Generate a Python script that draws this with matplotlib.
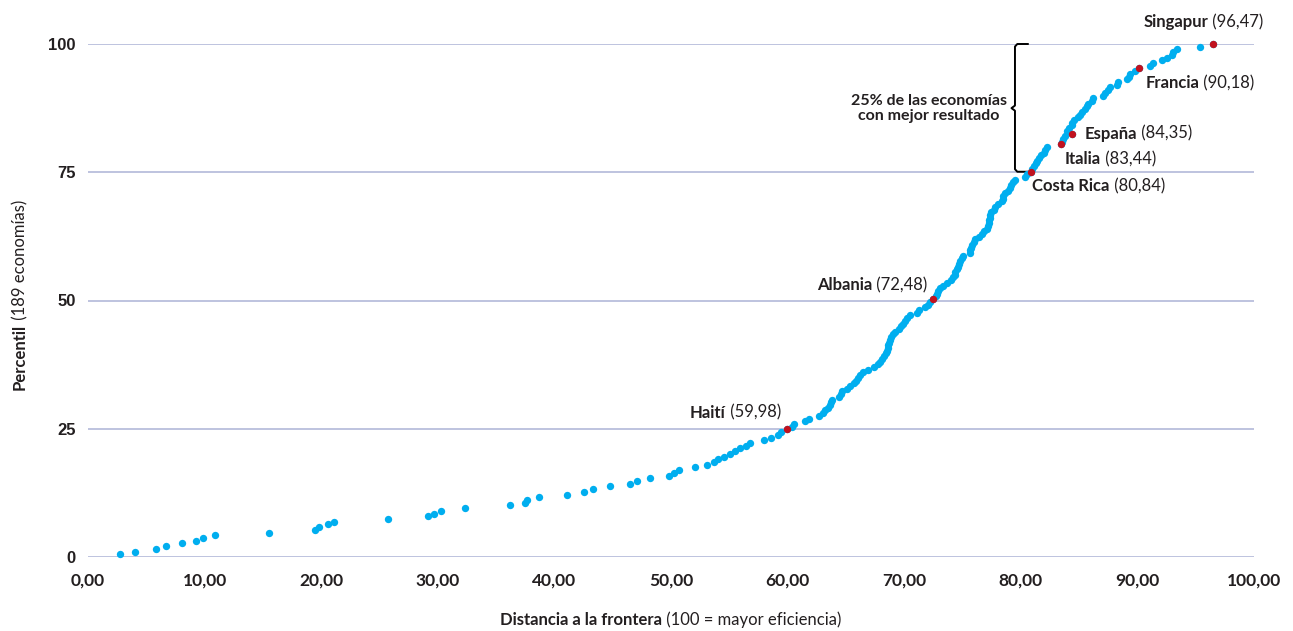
import matplotlib
matplotlib.use("Agg")
import matplotlib.pyplot as plt
from matplotlib.transforms import offset_copy

# --- Colours ---
AZUL = "#00aeef"
ROJO = "#c1121f"
REJILLA = "#b9bedc"
TEXTO = "#231f20"
FUENTE = "Lato"

# --- Data: 189 economies ordered by rank ---
distancia = [
    2.77, 4.01, 5.86, 6.70, 8.04, 9.30, 9.87, 10.88, 15.54, 19.46,
    19.83, 20.60, 21.14, 25.69, 29.12, 29.67, 30.27, 32.30, 36.22, 37.45,
    37.66, 38.69, 41.09, 42.52, 43.29, 44.78, 46.50, 47.12, 48.21, 49.81,
    50.24, 50.67, 52.10, 53.05, 53.71, 53.99, 54.57, 55.05, 55.48, 55.94,
    56.42, 56.76, 57.97, 58.57, 59.20, 59.42, 59.98, 60.34, 60.52, 61.46,
    61.80, 62.66, 63.00, 63.18, 63.43, 63.61, 63.69, 63.78, 64.38, 64.55,
    64.64, 65.06, 65.32, 65.67, 65.84, 66.01, 66.18, 66.44, 66.87, 67.38,
    67.73, 67.90, 68.07, 68.24, 68.41, 68.50, 68.58, 68.63, 68.71, 68.80,
    68.88, 69.01, 69.18, 69.53, 69.70, 69.87, 70.04, 70.21, 70.47, 71.07,
    71.24, 71.76, 72.02, 72.19, 72.48, 72.70, 72.83, 72.92, 73.09, 73.30,
    73.65, 73.99, 74.22, 74.33, 74.38, 74.51, 74.64, 74.72, 74.81, 74.94,
    75.06, 75.62, 75.65, 75.75, 75.85, 75.95, 76.10, 76.39, 76.65, 76.87,
    77.08, 77.21, 77.23, 77.28, 77.32, 77.38, 77.47, 77.66, 77.77, 78.03,
    78.37, 78.45, 78.51, 78.65, 78.88, 79.06, 79.18, 79.31, 79.51, 80.34,
    80.52, 80.84, 80.99, 81.12, 81.29, 81.42, 81.59, 81.76, 81.95, 82.10,
    82.27, 83.44, 83.52, 83.65, 83.78, 84.35, 83.99, 84.13, 84.37, 84.43,
    84.56, 84.91, 85.08, 85.22, 85.51, 85.65, 85.79, 86.08, 86.17, 87.08,
    87.22, 87.50, 87.65, 88.22, 88.30, 89.08, 89.30, 89.37, 89.79, 90.18,
    91.08, 91.36, 92.08, 92.58, 92.94, 93.08, 93.37, 95.37, 96.47,
]

percentil = [
    0.53, 1.06, 1.59, 2.12, 2.65, 3.17, 3.70, 4.23, 4.76, 5.29,
    5.82, 6.35, 6.88, 7.41, 7.94, 8.47, 8.99, 9.52, 10.05, 10.58,
    11.11, 11.64, 12.17, 12.70, 13.23, 13.76, 14.29, 14.81, 15.34, 15.87,
    16.40, 16.93, 17.46, 17.99, 18.52, 19.05, 19.58, 20.11, 20.63, 21.16,
    21.69, 22.22, 22.75, 23.28, 23.81, 24.34, 24.87, 25.40, 25.93, 26.46,
    26.98, 27.51, 28.04, 28.57, 29.10, 29.63, 30.16, 30.69, 31.22, 31.75,
    32.28, 32.80, 33.33, 33.86, 34.39, 34.92, 35.45, 35.98, 36.51, 37.04,
    37.57, 38.10, 38.62, 39.15, 39.68, 40.21, 40.74, 41.27, 41.80, 42.33,
    42.86, 43.39, 43.92, 44.44, 44.97, 45.50, 46.03, 46.56, 47.09, 47.62,
    48.15, 48.68, 49.21, 49.74, 50.26, 50.79, 51.32, 51.85, 52.38, 52.91,
    53.44, 53.97, 54.50, 55.03, 55.56, 56.08, 56.61, 57.14, 57.67, 58.20,
    58.73, 59.26, 59.79, 60.32, 60.85, 61.38, 61.90, 62.43, 62.96, 63.49,
    64.02, 64.55, 65.08, 65.61, 66.14, 66.67, 67.20, 67.72, 68.25, 68.78,
    69.31, 69.84, 70.37, 70.90, 71.43, 71.96, 72.49, 73.02, 73.54, 74.07,
    74.60, 75.13, 75.66, 76.19, 76.72, 77.25, 77.78, 78.31, 78.84, 79.37,
    79.89, 80.42, 80.95, 81.48, 82.01, 82.54, 83.07, 83.60, 84.13, 84.66,
    85.19, 85.71, 86.24, 86.77, 87.30, 87.83, 88.36, 88.89, 89.42, 89.95,
    90.48, 91.01, 91.53, 92.06, 92.59, 93.12, 93.65, 94.18, 94.71, 95.24,
    95.77, 96.30, 96.83, 97.35, 97.88, 98.41, 98.94, 99.47, 100.00,
]

destacados = ["Haití", "Albania", "Costa Rica", "Italia", "España", "Francia", "Singapur"]
destacados_x = [59.98, 72.48, 80.84, 83.44, 84.35, 90.18, 96.47]
etiquetas_valor = ["(59,98)", "(72,48)", "(80,84)", "(83,44)", "(84,35)", "(90,18)", "(96,47)"]

# label anchor (data coords) and alignment for each highlighted economy
posiciones = [(59.45, 28.1, "right"), (72.0, 53.0, "right"), (81.0, 72.3, "left"),
              (83.8, 77.6, "left"), (85.5, 82.5, "left"), (90.7, 92.4, "left"),
              (90.5, 104.3, "left")]

xticks = list(range(0, 101, 10))
yticks = [0, 25, 50, 75, 100]

fig = plt.figure(figsize=(12.93, 6.31), dpi=100)
ax = fig.add_axes([88 / 1293, 1 - 557 / 631, (1254 - 88) / 1293, (557 - 44) / 631])
renderer = fig.canvas.get_renderer()


def dos_partes(x, y, negrita, normal, ha="left", size=12):
    """Bold name followed by regular text, anchored at (x, y) in data coords."""
    kw = dict(fontsize=size, color=TEXTO, family=FUENTE, va="center", clip_on=False)
    if ha == "left":
        t1 = ax.text(x, y, negrita, fontweight="bold", ha="left", **kw)
        w = t1.get_window_extent(renderer).width
        tr = offset_copy(ax.transData, fig=fig, x=w, y=0, units="dots")
        ax.text(x, y, " " + normal, ha="left", transform=tr, **kw)
    else:
        t2 = ax.text(x, y, " " + normal, ha="right", **kw)
        w = t2.get_window_extent(renderer).width
        tr = offset_copy(ax.transData, fig=fig, x=-w, y=0, units="dots")
        ax.text(x, y, negrita, fontweight="bold", ha="right", transform=tr, **kw)


# --- Points ---
ax.scatter(distancia, percentil, s=28, color=AZUL, linewidths=0, zorder=3, clip_on=False)
rojo_y = [percentil[distancia.index(v)] for v in destacados_x]
ax.scatter(destacados_x, rojo_y, s=28, color=ROJO, linewidths=0, zorder=4, clip_on=False)

for nombre, valor, (lx, ly, ha) in zip(destacados, etiquetas_valor, posiciones):
    dos_partes(lx, ly, nombre, valor, ha=ha)

# --- Bracket for top 25% ---
bx = [80.6, 79.7, 79.5, 79.5, 79.2, 79.5, 79.5, 79.7, 80.7]
by = [100.0, 100.0, 99.5, 88.0, 87.5, 87.0, 75.6, 75.1, 75.1]
ax.plot(bx, by, color="black", lw=1.4, zorder=2, clip_on=False,
        solid_joinstyle="round")
ax.text(72.1, 87.4, "25% de las economías\ncon mejor resultado", ha="center", va="center",
        fontsize=11.5, fontweight="bold", color=TEXTO, family=FUENTE, linespacing=1.15)

# --- Axes styling ---
ax.set_xlim(0, 100)
ax.set_ylim(0, 100)
ax.set_xticks(xticks)
ax.set_xticklabels([f"{v:.2f}".replace(".", ",") for v in xticks],
                   fontsize=12.5, fontweight="bold", color=TEXTO, family=FUENTE)
ax.set_yticks(yticks)
ax.set_yticklabels([str(v) for v in yticks], fontsize=12, fontweight="bold",
                   color=TEXTO, family="Liberation Sans")
ax.tick_params(axis="x", length=0, pad=11)
ax.tick_params(axis="y", length=0, pad=9)
ax.yaxis.grid(True, color=REJILLA, lw=1.3)
ax.set_axisbelow(True)
for s in ax.spines.values():
    s.set_visible(False)

# --- Axis titles (bold + regular) ---
kw = dict(fontsize=12, color=TEXTO, family=FUENTE)
# x title centred at 671 px, y=620 px
b = fig.text(0, 0, "Distancia a la frontera", fontweight="bold", **kw)
r = fig.text(0, 0, " (100 = mayor eficiencia)", **kw)
wb = b.get_window_extent(renderer).width
wr = r.get_window_extent(renderer).width
x0 = 671 - (wb + wr) / 2
b.set_position((x0 / 1293, 1 - 620 / 631))
b.set_va("center")
r.set_position(((x0 + wb) / 1293, 1 - 620 / 631))
r.set_va("center")

# y title rotated, centred at y=295 px, x=20 px
b = fig.text(0, 0, "Percentil", fontweight="bold", rotation=90, **kw)
r = fig.text(0, 0, " (189 economías)", rotation=90, **kw)
hb = b.get_window_extent(renderer).height
hr = r.get_window_extent(renderer).height
y0 = (631 - 295) - (hb + hr) / 2
b.set_position((20 / 1293, y0 / 631))
b.set_ha("center")
b.set_va("bottom")
r.set_position((20 / 1293, (y0 + hb) / 631))
r.set_ha("center")
r.set_va("bottom")

fig.savefig("out.png", dpi=100)
